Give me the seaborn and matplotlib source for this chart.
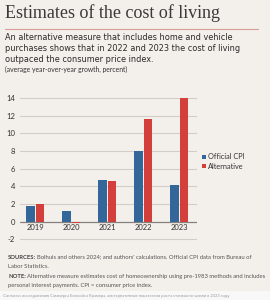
import matplotlib
matplotlib.use("Agg")
import matplotlib.pyplot as plt
import pandas as pd
import seaborn as sns

years = ["2019", "2020", "2021", "2022", "2023"]
official_cpi = [1.8, 1.2, 4.7, 8.0, 4.2]
alternative = [2.0, -0.1, 4.6, 11.6, 14.0]
series_names = ["Official CPI", "Alternative"]
y_ticks = [-2, 0, 2, 4, 6, 8, 10, 12, 14]

bg = "#f3efea"
blue = "#33679a"
red = "#d3403c"

df = pd.DataFrame({
    "year": years * 2,
    "value": official_cpi + alternative,
    "series": [series_names[0]] * len(years) + [series_names[1]] * len(years),
})

sns.set_theme(style="white")
plt.rcParams["font.family"] = ["Lato", "DejaVu Sans"]

fig = plt.figure(figsize=(2.7, 3.0), dpi=100, facecolor=bg)
ax = fig.add_axes([0.074, 0.19, 0.656, 0.513], facecolor=bg)

sns.barplot(data=df, x="year", y="value", hue="series", order=years,
            palette=[blue, red], saturation=1, width=0.54, gap=0.12,
            edgecolor="none", linewidth=0, ax=ax, legend=True)

ax.set_ylim(-2.4, 15.0)
ax.set_xlim(-0.42, 4.5)
ax.set_yticks(y_ticks)
ax.set_yticklabels([str(t) for t in y_ticks], fontsize=5.5, color="#333333")
ax.tick_params(axis="y", length=0, pad=3.5)
ax.set_xticks([])
ax.set_xlabel("")
ax.set_ylabel("")
for s in ax.spines.values():
    s.set_visible(False)
for t in y_ticks:
    ax.axhline(t, color="#85807b" if t == 0 else "#d3cdc6",
               lw=0.9 if t == 0 else 0.8, zorder=0.9 if t == 0 else 0)
for i, y in enumerate(years):
    ax.text(i, -0.3, y, ha="center", va="top", fontsize=5.5, color="#333333")

leg = ax.legend(loc="center left", bbox_to_anchor=(1.0, 0.53), frameon=False,
                fontsize=5.3, handlelength=0.45, handleheight=0.45,
                handletextpad=0.3, labelspacing=0.3, borderaxespad=0.3)
for txt in leg.get_texts():
    txt.set_color("#333333")

fig.text(0.02, 0.958, "Estimates of the cost of living", fontsize=13,
         family="Liberation Serif", color="#3a3a3a", va="center")
fig.add_artist(plt.Line2D([0.02, 0.955], [0.903, 0.903], color="#d99a9a", lw=0.8))
sub = ("An alternative measure that includes home and vehicle\n"
       "purchases shows that in 2022 and 2023 the cost of living\n"
       "outpaced the consumer price index.")
fig.text(0.02, 0.89, sub, fontsize=5.9, color="#2a2a2a", va="top",
         linespacing=1.3, family="DejaVu Sans")
fig.text(0.02, 0.779, "(average year-over-year growth, percent)", fontsize=4.9,
         color="#333333", va="top")

fig.canvas.draw()
rend = fig.canvas.get_renderer()


def label_line(y, head, rest):
    t = fig.text(0.03, y, head, fontsize=4.2, fontweight="bold", color="#444444", va="center")
    bb = t.get_window_extent(rend)
    x1 = bb.x1 / fig.bbox.width + 0.005
    fig.text(x1, y, rest, fontsize=4.2, color="#555555", va="center")


label_line(0.143, "SOURCES:", "Bolhuis and others 2024; and authors' calculations. Official CPI data from Bureau of")
fig.text(0.03, 0.113, "Labor Statistics.", fontsize=4.2, color="#555555", va="center")
label_line(0.077, "NOTE:", "Alternative measure estimates cost of homeownership using pre-1983 methods and includes")
fig.text(0.03, 0.047, "personal interest payments. CPI = consumer price index.", fontsize=4.2,
         color="#555555", va="center")

fig.add_artist(plt.Rectangle((0, 0), 1, 0.03, transform=fig.transFigure,
                             facecolor="#f8f8f8", edgecolor="none"))
fig.text(0.01, 0.015, "Согласно исследованию Саммерса Болхойса Крамера, альтернативные "
         "показатели роста стоимости жизни в 2023 году", fontsize=3.0,
         color="#9a9a9a", va="center")

fig.savefig("out.png", dpi=100, facecolor=bg)
